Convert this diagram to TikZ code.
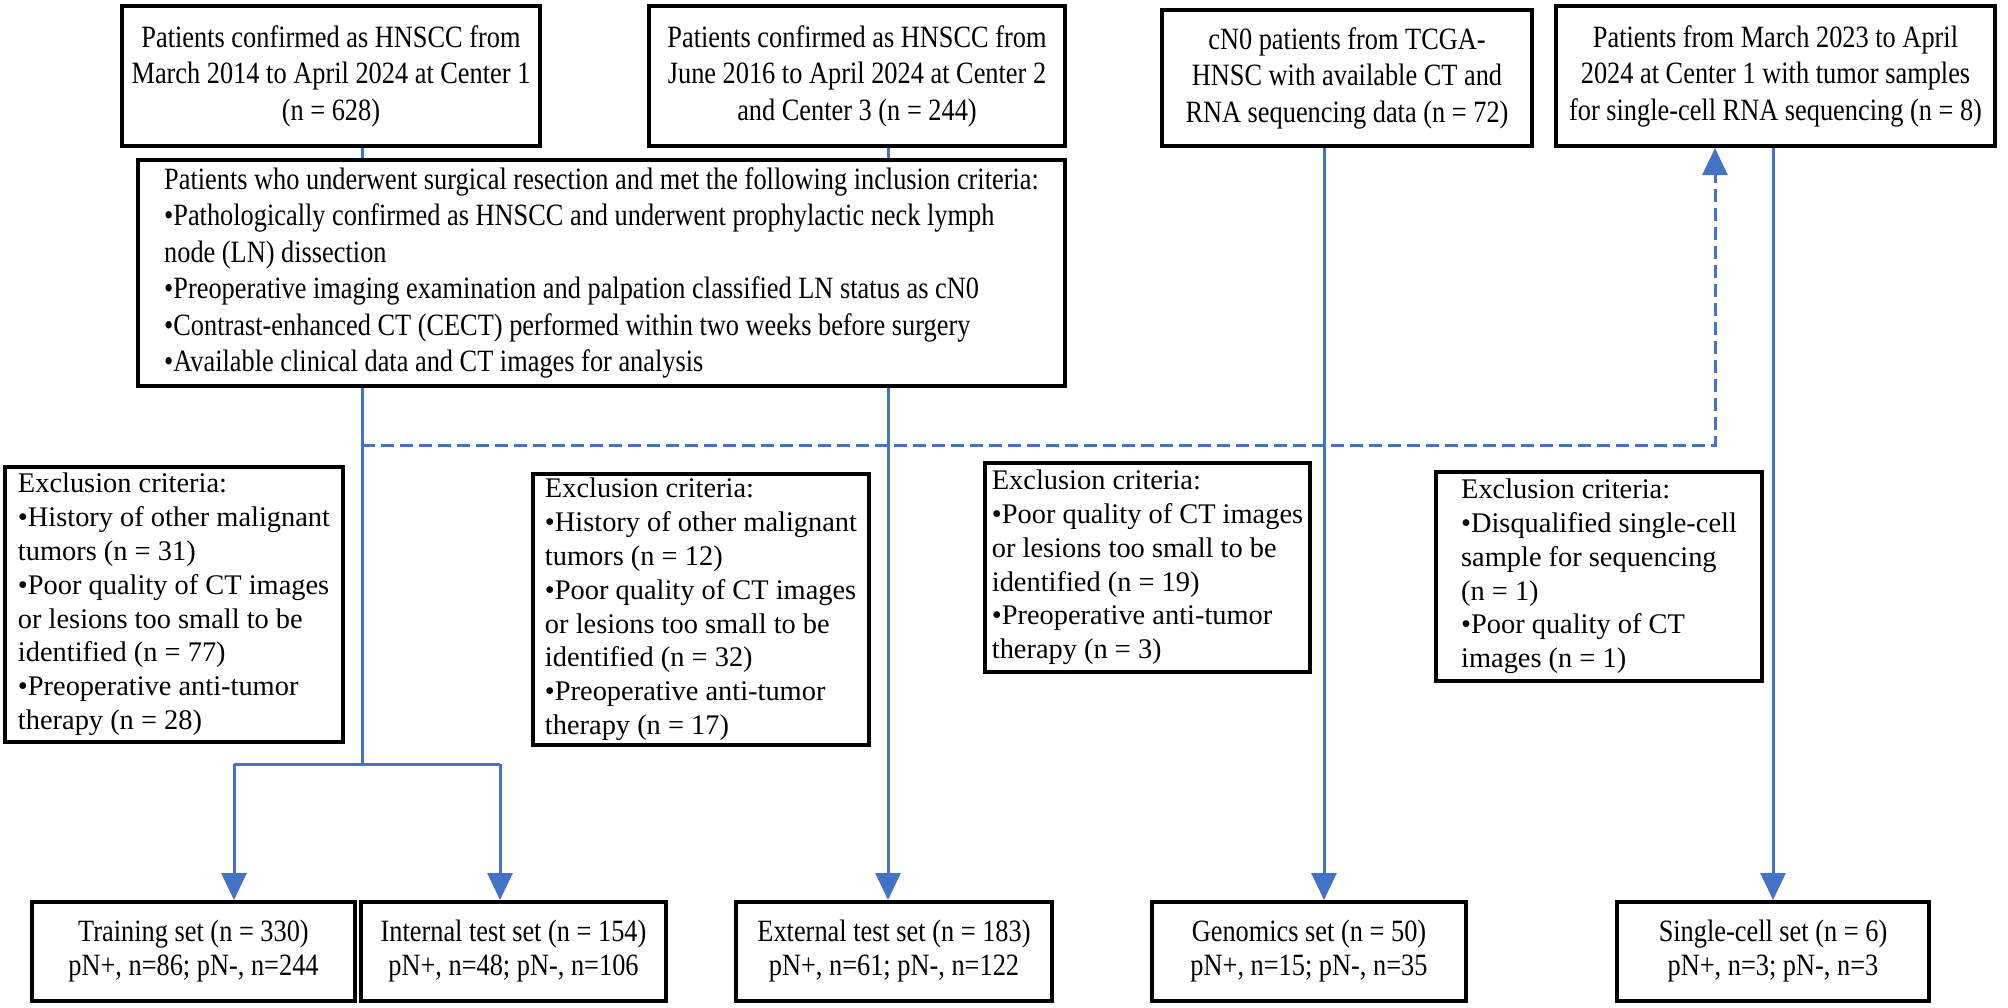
\documentclass[tikz,border=0pt]{standalone}
\usepackage{fontspec}
\setmainfont{Liberation Serif}
\newfontfamily\condfont[FakeStretch=0.85]{Liberation Serif}
\usetikzlibrary{arrows.meta,calc}
\definecolor{lineblue}{HTML}{4472C4}
\begin{document}
\begin{tikzpicture}[x=1pt,y=-1pt,
  cbox/.style={draw=black, line width=4pt, inner sep=0pt, align=center,
    font=\condfont\fontsize{31}{36.5}\selectfont},
  sbox/.style={cbox, font=\condfont\fontsize{31}{34}\selectfont},
  mbox/.style={cbox, align=left},
  lbox/.style={draw=black, line width=4pt, inner sep=0pt, align=left,
    font=\fontsize{28.4}{33.8}\selectfont},
  conn/.style={draw=lineblue, line width=3pt},
  arr/.style={conn, -{Triangle[length=27pt,width=25pt]}},
  darr/.style={arr, dash pattern=on 13pt off 6pt}]
\useasboundingbox (0,0) rectangle (2008,1007);

% top row
\node[cbox, minimum width=418pt, minimum height=140pt] (box1) at (331,76)
  {Patients confirmed as HNSCC from\\March 2014 to April 2024 at Center 1\\(n = 628)};
\node[cbox, minimum width=416pt, minimum height=140pt] (box2) at (857,76)
  {Patients confirmed as HNSCC from\\June 2016 to April 2024 at Center 2\\and Center 3 (n = 244)};
\node[cbox, minimum width=370pt, minimum height=136pt] (box3) at (1347,78)
  {cN0 patients from TCGA-\\HNSC with available CT and\\RNA sequencing data (n = 72)};
\node[cbox, minimum width=439pt, minimum height=140pt] (box4) at (1775.5,76)
  {Patients from March 2023 to April\\2024 at Center 1 with tumor samples\\for single-cell RNA sequencing (n = 8)};

% inclusion box
\node[mbox, minimum width=927pt, minimum height=226pt] (mid) at (601.5,273)
  {Patients who underwent surgical resection and met the following inclusion criteria:\\
   •Pathologically confirmed as HNSCC and underwent prophylactic neck lymph\\
   node (LN) dissection\\
   •Preoperative imaging examination and palpation classified LN status as cN0\\
   •Contrast-enhanced CT (CECT) performed within two weeks before surgery\\
   •Available clinical data and CT images for analysis};

% exclusion boxes
\node[lbox, minimum width=338pt, minimum height=275pt] (ex1) at (174,604.5)
  {Exclusion criteria:\\•History of other malignant\\tumors (n = 31)\\•Poor quality of CT images\\or lesions too small to be\\identified (n = 77)\\•Preoperative anti-tumor\\therapy (n = 28)};
\node[lbox, minimum width=336pt, minimum height=271pt] (ex2) at (701,609.5)
  {Exclusion criteria:\\•History of other malignant\\tumors (n = 12)\\•Poor quality of CT images\\or lesions too small to be\\identified (n = 32)\\•Preoperative anti-tumor\\therapy (n = 17)};
\node[lbox, minimum width=325pt, minimum height=209pt] (ex3) at (1147.5,567.5)
  {Exclusion criteria:\\•Poor quality of CT images\\or lesions too small to be\\identified (n = 19)\\•Preoperative anti-tumor\\therapy (n = 3)};
\node[lbox, minimum width=326pt, minimum height=209pt] (ex4) at (1599,576.5)
  {Exclusion criteria:\\•Disqualified single-cell\\sample for sequencing\\(n = 1)\\•Poor quality of CT\\images (n = 1)};

% bottom row
\node[sbox, minimum width=323pt, minimum height=99pt] (train) at (193.5,951.5)
  {Training set (n = 330)\\pN+, n=86; pN-, n=244};
\node[sbox, minimum width=305pt, minimum height=99pt] (internal) at (513.5,951.5)
  {Internal test set (n = 154)\\pN+, n=48; pN-, n=106};
\node[sbox, minimum width=316pt, minimum height=99pt] (external) at (894,951.5)
  {External test set (n = 183)\\pN+, n=61; pN-, n=122};
\node[sbox, minimum width=314pt, minimum height=99pt] (genomics) at (1309,951.5)
  {Genomics set (n = 50)\\pN+, n=15; pN-, n=35};
\node[sbox, minimum width=312pt, minimum height=99pt] (single) at (1773,951.5)
  {Single-cell set (n = 6)\\pN+, n=3; pN-, n=3};

% junction coordinates
\coordinate (cL) at (362,445);
\coordinate (cR) at (1715,445);
\coordinate (bL) at (234,764);
\coordinate (bR) at (500,764);
\coordinate (xE) at (888,445);
\coordinate (xG) at (1324,445);

% connectors
\draw[conn] (cL |- box1.south) -- (cL |- mid.north);
\draw[conn] (xE |- box2.south) -- (xE |- mid.north);
\draw[conn] (cL |- mid.south) -- (cL |- bL);
\draw[conn] (bL) -- (bR);
\draw[arr] (bL) -- (bL |- train.north);
\draw[arr] (bR) -- (bR |- internal.north);
\draw[arr] (xE |- mid.south) -- (xE |- external.north);
\draw[arr] (xG |- box3.south) -- (xG |- genomics.north);
\draw[arr] (single.north |- box4.south) -- (single.north);
\draw[darr] (cL) -- (cR) -- (cR |- box4.south);
\end{tikzpicture}
\end{document}
